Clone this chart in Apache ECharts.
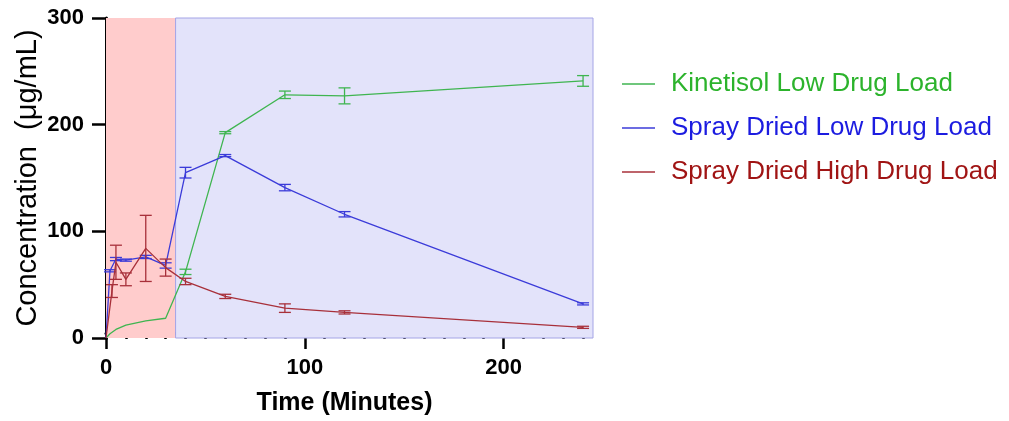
<!DOCTYPE html>
<html>
<head>
<meta charset="utf-8">
<script src="https://cdn.jsdelivr.net/npm/echarts@6/dist/echarts.min.js"></script>
<style>
html,body{margin:0;padding:0;background:#fff;}
#chart{width:1009px;height:421px;}
</style>
</head>
<body>
<div id="chart"></div>
<script>
// ---- data ----
const seriesNames = ['Kinetisol Low Drug Load', 'Spray Dried Low Drug Load', 'Spray Dried High Drug Load'];

const timesKinetisol = [0, 2, 5, 10, 20, 30, 40, 60, 90, 120, 240];
const kinetisolLow = [0, 4, 8, 12, 16, 18.5, 62, 192.5, 228, 227, 241];
const kinetisolLowErr = [0, 0, 0, 0, 0, 0, 2.5, 1, 3.5, 7.5, 5];

const timesSprayLow = [0, 2, 5, 10, 20, 30, 40, 60, 90, 120, 240];
const sprayLow = [0, 63, 74, 73, 76, 68, 155, 171, 141, 116, 32];
const sprayLowErr = [0, 1, 1.5, 1, 1.5, 2.5, 5, 1, 3, 2.5, 1];

const timesSprayHigh = [0, 3, 5, 10, 20, 30, 40, 60, 90, 120, 240];
const sprayHigh = [0, 44, 71, 55, 84, 66, 53, 39, 28, 24, 10];
const sprayHighErr = [0, 6, 16, 6, 31, 8, 3, 2, 4, 1.5, 1];

// phase boundaries (minutes): acid phase then neutral phase
const phaseBounds = [0, 35, 245];

const yTicks = [0, 100, 200, 300];
const xMajorTicks = [0, 100, 200];

// ---- styling ----
const lineColors = ['#3fb550', '#3b3bd9', '#a8303a'];
const textColors = ['#2cb32c', '#1c1ce0', '#a01414'];
const FONT = 'Liberation Sans, Arial, sans-serif';

function zip(t, v, e) { return t.map((x, i) => [x, v[i], e[i]]); }
const datasets = [
  zip(timesKinetisol, kinetisolLow, kinetisolLowErr),
  zip(timesSprayLow, sprayLow, sprayLowErr),
  zip(timesSprayHigh, sprayHigh, sprayHighErr)
];

function errRender(color) {
  return function (params, api) {
    const x = api.value(0), y = api.value(1), e = api.value(2);
    if (!e) return;
    const top = api.coord([x, y + e]);
    const bot = api.coord([x, y - e]);
    const w = 6;
    const st = { stroke: color, lineWidth: 1.3 };
    return {
      type: 'group',
      children: [
        { type: 'line', shape: { x1: top[0], y1: top[1], x2: bot[0], y2: bot[1] }, style: st },
        { type: 'line', shape: { x1: top[0] - w, y1: top[1], x2: top[0] + w, y2: top[1] }, style: st },
        { type: 'line', shape: { x1: bot[0] - w, y1: bot[1], x2: bot[0] + w, y2: bot[1] }, style: st }
      ]
    };
  };
}

const L = 106, T = 18, H = 320;
const xMax = phaseBounds[2];
const W = 487;
const pxPerMin = W / xMax;

const series = [];
datasets.forEach((d, i) => {
  const s = {
    name: seriesNames[i],
    type: 'line',
    xAxisIndex: 0, yAxisIndex: 0,
    data: d.map(p => [p[0], p[1]]),
    symbol: 'none',
    lineStyle: { color: lineColors[i], width: 1.3 },
    itemStyle: { color: lineColors[i] },
    z: 3 + i,
    animation: false
  };
  if (i === 0) {
    s.markArea = {
      silent: true,
      data: [
        [{ xAxis: phaseBounds[0], itemStyle: { color: '#ffcccc' } }, { xAxis: phaseBounds[1] }],
        [{ xAxis: phaseBounds[1], itemStyle: { color: '#e3e3fa', borderColor: '#a4a4e6', borderWidth: 1 } }, { xAxis: phaseBounds[2] }]
      ]
    };
  }
  series.push(s);
  series.push({
    name: seriesNames[i],
    type: 'custom',
    xAxisIndex: 0, yAxisIndex: 0,
    data: d,
    renderItem: errRender(lineColors[i]),
    z: 3 + i,
    animation: false
  });
});

const option = {
  animation: false,
  grid: [
    { left: L, top: T, width: W, height: H },
    { left: L, top: T, width: pxPerMin * 240, height: H },
    { left: L, top: T, width: pxPerMin * 200, height: H }
  ],
  legend: {
    orient: 'vertical',
    left: 617,
    top: 64,
    icon: 'rect',
    itemWidth: 33,
    itemHeight: 1.5,
    itemGap: 14,
    textStyle: { fontFamily: FONT, fontSize: 26, lineHeight: 30, padding: [0, 0, 0, 11] },
    data: seriesNames.map((n, i) => ({ name: n, itemStyle: { color: lineColors[i] }, textStyle: { color: textColors[i] } }))
  },
  xAxis: [
    { gridIndex: 0, type: 'value', min: 0, max: xMax, show: false },
    {
      gridIndex: 1, type: 'value', min: 0, max: 240, interval: 10,
      axisLine: { show: true, lineStyle: { color: '#000', width: 3 } },
      axisTick: { show: true, length: 6, lineStyle: { color: '#000', width: 2.5 } },
      axisLabel: { show: false },
      splitLine: { show: false },
      name: 'Time (Minutes)',
      nameLocation: 'middle',
      nameGap: 58,
      nameTextStyle: { fontFamily: FONT, fontSize: 25, fontWeight: 'bold', color: '#000' }
    },
    {
      gridIndex: 2, type: 'value', min: xMajorTicks[0], max: xMajorTicks[xMajorTicks.length - 1], interval: 100,
      axisLine: { show: false },
      axisTick: { show: true, length: 11, lineStyle: { color: '#000', width: 2.5 } },
      axisLabel: { show: true, margin: 19, fontFamily: FONT, fontSize: 22, fontWeight: 'bold', color: '#000' },
      splitLine: { show: false }
    }
  ],
  yAxis: [
    {
      gridIndex: 0, type: 'value', min: yTicks[0], max: yTicks[yTicks.length - 1], interval: 100,
      axisLine: { show: true, lineStyle: { color: '#000', width: 3 } },
      axisTick: { show: true, length: 14, lineStyle: { color: '#000', width: 2.5 } },
      axisLabel: { show: true, margin: 22, fontFamily: FONT, fontSize: 22, fontWeight: 'bold', color: '#000' },
      splitLine: { show: false },
      name: 'Concentration  (μg/mL)',
      nameLocation: 'middle',
      nameGap: 64,
      nameTextStyle: { fontFamily: FONT, fontSize: 29, color: '#000' }
    },
    { gridIndex: 1, type: 'value', min: 0, max: 300, show: false },
    { gridIndex: 2, type: 'value', min: 0, max: 300, show: false }
  ],
  series: series
};

const chart = echarts.init(document.getElementById('chart'), null, { renderer: 'canvas' });
chart.setOption(option);
</script>
</body>
</html>
